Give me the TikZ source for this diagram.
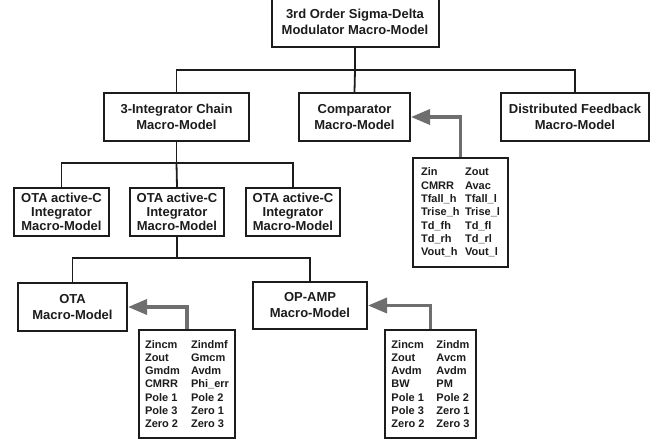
\documentclass[tikz,border=0pt]{standalone}
\usepackage{fontspec}
\setmainfont{Liberation Sans}
\usetikzlibrary{arrows.meta}
\definecolor{ink}{HTML}{1C1C1C}
\definecolor{feed}{HTML}{6E6E6E}
\newcommand{\prow}[3][46pt]{\makebox[#1][l]{#2}#3}
\begin{document}
\begin{tikzpicture}[x=1pt,y=-1pt,
  block/.style={draw=ink, line width=2pt, fill=white, inner sep=0pt, align=center,
    text=ink, font=\fontsize{13}{16}\selectfont\bfseries},
  tallblock/.style={block, font=\fontsize{13}{14.2}\selectfont\bfseries},
  params/.style={draw=ink, line width=2pt, fill=white, inner sep=0pt, align=left,
    text=ink, font=\fontsize{11}{13.3}\selectfont\bfseries},
  tree/.style={draw=ink, line width=1.8pt},
  feedarrow/.style={draw=feed, line width=3.4pt,
    -{Triangle[length=19pt,width=15pt]}}]
\useasboundingbox (0,0) rectangle (662,442);

% top of the hierarchy
\node[block, minimum width=167, minimum height=50] (top) at (355,22)
  {3rd Order Sigma-Delta\\Modulator Macro-Model};

% second level
\node[block, minimum width=145, minimum height=48] (int) at (176.5,117)
  {3-Integrator Chain\\Macro-Model};
\node[block, minimum width=111, minimum height=48] (comp) at (354.5,117)
  {Comparator\\Macro-Model};
\node[block, minimum width=148, minimum height=48] (dist) at (575,117)
  {Distributed Feedback\\Macro-Model};

% integrators
\node[tallblock, minimum width=95, minimum height=48] (ota1) at (61.5,212)
  {OTA active-C\\Integrator\\Macro-Model};
\node[tallblock, minimum width=94, minimum height=48] (ota2) at (177,212)
  {OTA active-C\\Integrator\\Macro-Model};
\node[tallblock, minimum width=94, minimum height=48] (ota3) at (293,212)
  {OTA active-C\\Integrator\\Macro-Model};

% amplifier models
\node[block, minimum width=109, minimum height=48] (otam) at (72.5,307)
  {OTA\\Macro-Model};
\node[block, minimum width=114, minimum height=47] (opamp) at (310,305.5)
  {OP-AMP\\Macro-Model};

% parameter lists
\node[params, minimum width=95, minimum height=109] (cmpp) at (460.5,212.5)
  {\prow[44pt]{Zin}{Zout}\\ \prow[44pt]{CMRR}{Avac}\\ \prow[44pt]{Tfall\_h}{Tfall\_l}\\
   \prow[44pt]{Trise\_h}{Trise\_l}\\ \prow[44pt]{Td\_fh}{Td\_fl}\\
   \prow[44pt]{Td\_rh}{Td\_rl}\\ \prow[44pt]{Vout\_h}{Vout\_l}};
\node[params, minimum width=96, minimum height=108] (otap) at (187,384)
  {\prow{Zincm}{Zindmf}\\ \prow{Zout}{Gmcm}\\ \prow{Gmdm}{Avdm}\\
   \prow{CMRR}{Phi\_err}\\ \prow{Pole 1}{Pole 2}\\ \prow{Pole 3}{Zero 1}\\
   \prow{Zero 2}{Zero 3}};
\node[params, minimum width=91, minimum height=108] (opp) at (430.5,384)
  {\prow[45pt]{Zincm}{Zindm}\\ \prow[45pt]{Zout}{Avcm}\\ \prow[45pt]{Avdm}{Avdm}\\
   \prow[45pt]{BW}{PM}\\ \prow[45pt]{Pole 1}{Pole 2}\\ \prow[45pt]{Pole 3}{Zero 1}\\
   \prow[45pt]{Zero 2}{Zero 3}};

% tree connectors
\coordinate (bus1) at (355,70);
\coordinate (bus2) at (176.5,163);
\coordinate (bus3) at (177,258);
\draw[tree] (top.south) -- (bus1);
\draw[tree] (int.north) |- (bus1) -| (dist.north);
\draw[tree] (bus1) -- (comp.north);
\draw[tree] (int.south) -- (bus2);
\draw[tree] (ota1.north) |- (bus2) -| (ota3.north);
\draw[tree] (bus2) -- (ota2.north);
\draw[tree] (ota2.south) -- (bus3);
\draw[tree] (otam.north) |- (bus3) -| (opamp.north);

% parameter feeds
\draw[feedarrow] (cmpp.north) |- (comp.east);
\draw[feedarrow] (otap.north) |- (otam.east);
\draw[feedarrow] (opp.north) |- (opamp.east);
\end{tikzpicture}
\end{document}
